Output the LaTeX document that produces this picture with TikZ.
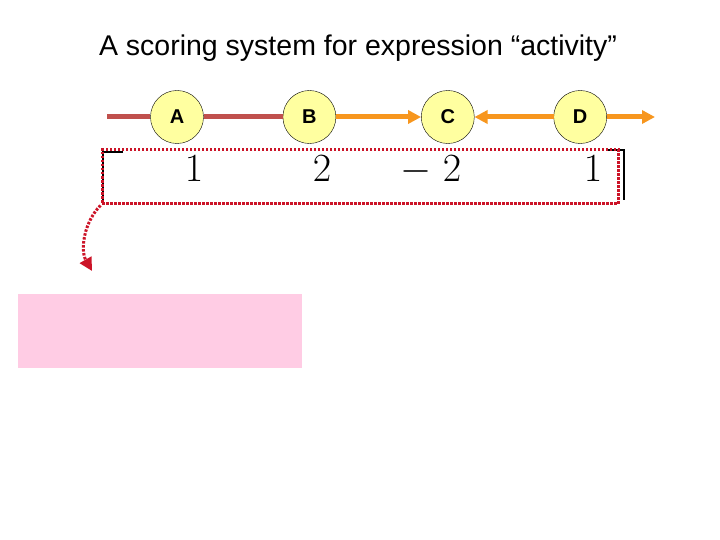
\RequirePackage{fix-cm}
\documentclass[tikz,border=0pt]{standalone}
\usepackage{fontspec}
\setsansfont{Liberation Sans}
\usepackage{xcolor}
\usepackage{tikz}
\usetikzlibrary{arrows.meta, positioning, calc}
\definecolor{linered}{RGB}{192,80,77}
\definecolor{lineorange}{RGB}{247,150,30}
\definecolor{nodeyellow}{RGB}{255,255,160}
\definecolor{dotred}{RGB}{204,20,40}
\definecolor{boxpink}{RGB}{255,204,228}
\tikzset{
  gene/.style={circle, draw=black, thin, fill=nodeyellow,
               minimum size=53pt, inner sep=0pt,
               font=\sffamily\bfseries\fontsize{20}{22}\selectfont},
  repress/.style={line width=5pt, linered},
  activ/.style={line width=5pt, lineorange,
                -{Triangle[length=13pt,width=13pt]}},
  score/.style={font=\fontsize{40}{44}\selectfont, inner sep=0pt,
                anchor=base},
  scorebox/.style={draw=dotred, line width=3pt,
                   dash pattern=on 2.5pt off 1.5pt,
                   minimum width=516pt, minimum height=54pt, inner sep=0pt},
  bracket/.style={line width=1.8pt, black},
}

\begin{document}
\begin{tikzpicture}[x=1pt, y=1pt]
  \useasboundingbox (0,0) rectangle (720,-540);
  %% title
  \node[font=\sffamily\fontsize{28.5}{32}\selectfont] (title) at (358,-48)
    {A scoring system for expression “activity”};
  %% genes on the line
  \node[gene] (A) at (177,-117) {A};
  \node[gene, right=79pt of A] (B) {B};
  \node[gene, right=85pt of B] (C) {C};
  \node[gene, right=79pt of C] (D) {D};
  \coordinate (start) at (107,-117);
  \coordinate (end)   at (655,-117);
  \draw[repress] (start) -- (A);
  \draw[repress] (A) -- (B);
  \draw[activ] (B) -- (C);
  \draw[activ] (D) -- (C);
  \draw[activ] (D) -- (end);
  %% score vector
  \node[score] (s1) at (194,-182) {$1$};
  \node[score] (s2) at (322,-182) {$2$};
  \node[score] (s3) at (431,-182) {$-\;2$};
  \node[score] (s4) at (593,-182) {$1$};
  \draw[bracket] (123,-152) -- (103,-152) -- (103,-200);
  \draw[bracket] (607,-150) -- (624,-150) -- (624,-200);
  \node[scorebox] (box) at (360,-177) {};
  %% curved pointer
  \coordinate (tip) at (92,-271);
  \draw[dotred, line width=3pt, dash pattern=on 2.5pt off 1.5pt,
        -{Triangle[length=13pt,width=13pt]}]
    (box.south west) .. controls (84,-222) and (80,-250) .. (tip);
  %% pink box
  \node[fill=boxpink, minimum width=284pt, minimum height=74pt,
        inner sep=0pt] (pinkbox) at (160,-331) {};
\end{tikzpicture}
\end{document}
